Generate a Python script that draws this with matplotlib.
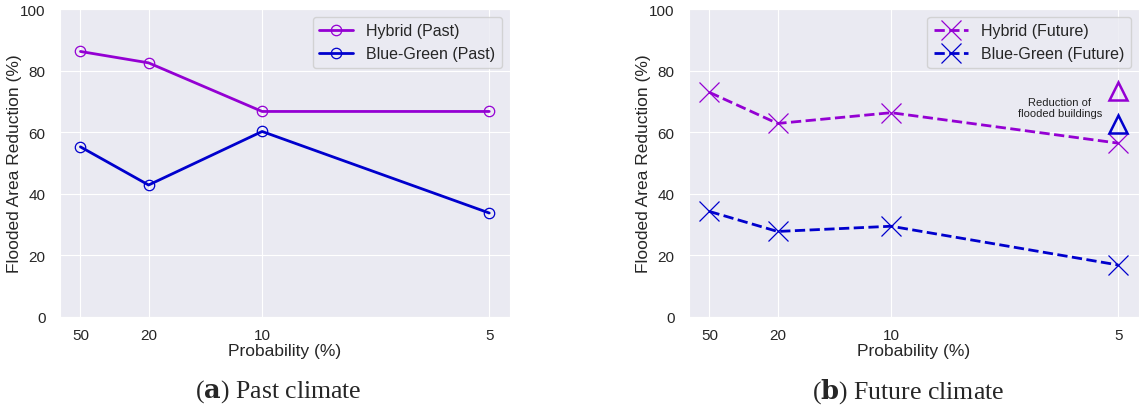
import matplotlib
matplotlib.use("Agg")
import matplotlib.pyplot as plt
import seaborn as sns

sns.set_style("darkgrid")
plt.rcParams['font.family'] = ['Liberation Sans', 'DejaVu Sans']

# return periods (years) used as x positions; labels show probability (%)
return_periods = [2, 5, 10, 20]
prob_labels = ["50", "20", "10", "5"]

hybrid_past = [86.2, 82.5, 66.7, 66.7]
bluegreen_past = [55.2, 42.8, 60.2, 33.7]
hybrid_future = [72.9, 62.8, 66.3, 56.4]
bluegreen_future = [34.2, 27.7, 29.4, 16.8]
buildings_x = [20]
buildings_hybrid = [73.3]
buildings_bluegreen = [62.7]

c_h = "darkviolet"
c_b = "mediumblue"

W, H = 1139, 406
fig = plt.figure(figsize=(W/100, H/100), dpi=100)
ax1 = fig.add_axes([60/W, 1-317.7/H, 449.7/W, 307.7/H])
ax2 = fig.add_axes([689/W, 1-317.7/H, 449.7/W, 307.7/H])

ax1.plot(return_periods, hybrid_past, color=c_h, lw=2, marker='o', ms=7.5,
         mfc='none', mew=0.9, label="Hybrid (Past)")
ax1.plot(return_periods, bluegreen_past, color=c_b, lw=2, marker='o', ms=7.5,
         mfc='none', mew=0.9, label="Blue-Green (Past)")

ax2.plot(return_periods, hybrid_future, color=c_h, lw=2, ls='--', marker='x', ms=15,
         mew=0.9, label="Hybrid (Future)")
ax2.plot(return_periods, bluegreen_future, color=c_b, lw=2, ls='--', marker='x', ms=15,
         mew=0.9, label="Blue-Green (Future)")
ax2.plot(buildings_x, buildings_hybrid, ls='none', marker='^', ms=12.5, mfc='none',
         mec=c_h, mew=1.8)
ax2.plot(buildings_x, buildings_bluegreen, ls='none', marker='^', ms=12.5, mfc='none',
         mec=c_b, mew=1.8)
ax2.text(17.43, 68.1, "Reduction of\nflooded buildings", ha='center', va='center',
         fontsize=8, color='#222222', linespacing=1.1)

for ax in (ax1, ax2):
    ax.set_ylim(0, 100)
    ax.set_xlim(1.1, 20.9)
    ax.set_xticks(return_periods)
    ax.set_xticklabels(prob_labels)
    ax.set_yticks([0, 20, 40, 60, 80, 100])
    ax.tick_params(labelsize=11, colors='#262626')
    ax.tick_params(axis='y', pad=7)
    ax.tick_params(axis='x', pad=4.5)
    ax.set_xlabel("Probability (%)", fontsize=12.5, color='#262626', labelpad=1)
    ax.set_ylabel("Flooded Area Reduction (%)", fontsize=12.5, color='#262626')
    ax.yaxis.set_label_coords(-38/449.7, 0.5)
    ax.legend(loc='upper right', fontsize=11.5, handlelength=2.15, framealpha=0.8,
              borderaxespad=0.5)

fig.text(278/W, 1-391.7/H, r"($\mathbf{a}$) Past climate", ha='center', va='center',
         fontsize=18.5, family='Liberation Serif', math_fontfamily='dejavuserif')
fig.text(908/W, 1-391.7/H, r"($\mathbf{b}$) Future climate", ha='center', va='center',
         fontsize=18.5, family='Liberation Serif', math_fontfamily='dejavuserif')

fig.savefig("out.png", dpi=100)
